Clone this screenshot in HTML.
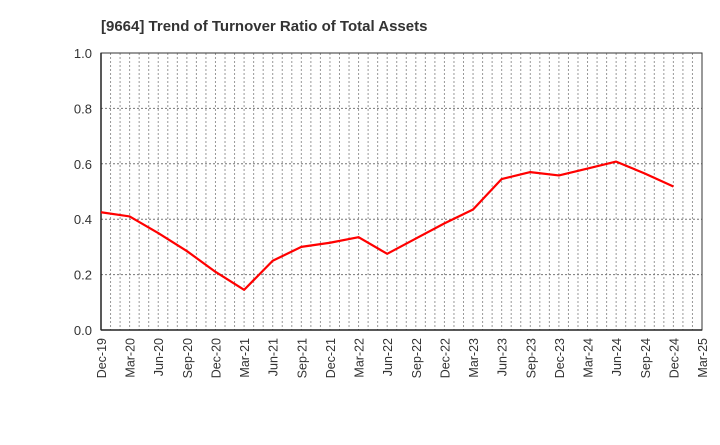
<!DOCTYPE html>
<html><head><meta charset="utf-8"><style>
body{margin:0;background:#fff;font-family:"Liberation Sans",sans-serif;}
</style></head><body>
<svg id="c" width="720" height="440" xmlns="http://www.w3.org/2000/svg">
<text x="101" y="31" font-size="15" font-weight="bold" fill="#333">[9664]  Trend of Turnover Ratio of Total Assets</text>
<g id="grid"></g><g id="axes"></g><g id="series"></g>
</svg>
<script>
const categories=["Dec-19","Mar-20","Jun-20","Sep-20","Dec-20","Mar-21","Jun-21","Sep-21","Dec-21","Mar-22","Jun-22","Sep-22","Dec-22","Mar-23","Jun-23","Sep-23","Dec-23","Mar-24","Jun-24","Sep-24","Dec-24","Mar-25"];
const values=[0.425,0.41,0.35,0.285,0.21,0.145,0.25,0.30,0.315,0.335,0.275,0.33,0.385,0.435,0.545,0.57,0.558,0.583,0.608,0.565,0.518];
const yTicks=[0,0.2,0.4,0.6,0.8,1.0];
const NS="http://www.w3.org/2000/svg";
const L=101,R=702,T=53,B=330;
const step=(R-L)/(categories.length-1);
const x=i=>L+i*step, y=v=>B-(v/1.0)*(B-T);
function mk(t,a,p){const e=document.createElementNS(NS,t);for(const k in a)e.setAttribute(k,a[k]);p.appendChild(e);return e;}
const g=document.getElementById('grid'),ax=document.getElementById('axes'),s=document.getElementById('series');
for(let m=1;m<(categories.length-1)*3;m++){const xx=L+m*step/3;
const l=mk('line',{x1:xx,x2:xx,y1:T,y2:B,stroke:'#999','stroke-dasharray':'2,2','stroke-width':1},g);

}
yTicks.forEach(v=>{const yy=y(v);
if(v>0&&v<1){const l=mk('line',{x1:L,x2:R,y1:yy,y2:yy,stroke:'#777','stroke-dasharray':'2,2','stroke-width':1},g);

}
const t=mk('text',{x:L-9,y:yy+5,'text-anchor':'end','font-size':13,fill:'#333'},ax);t.textContent=v.toFixed(1);

});
const fr=mk('rect',{x:L,y:T,width:R-L,height:B-T,fill:'none',stroke:'#333','stroke-width':1},ax);


mk('line',{x1:L,x2:L,y1:T,y2:B,stroke:'#222','stroke-width':1.5},ax);
mk('line',{x1:L,x2:R,y1:B,y2:B,stroke:'#222','stroke-width':1.5},ax);
categories.forEach((c,i)=>{const t=mk('text',{transform:`translate(${x(i)+5},${B+8}) rotate(-90)`,'text-anchor':'end','font-size':12.5,fill:'#333'},ax);t.textContent=c;

});
const pl=mk('polyline',{points:values.map((v,i)=>x(i)+','+y(v)).join(' '),fill:'none',stroke:'#f00','stroke-width':2.2,'stroke-linejoin':'round'},s);


</script>
</body></html>
